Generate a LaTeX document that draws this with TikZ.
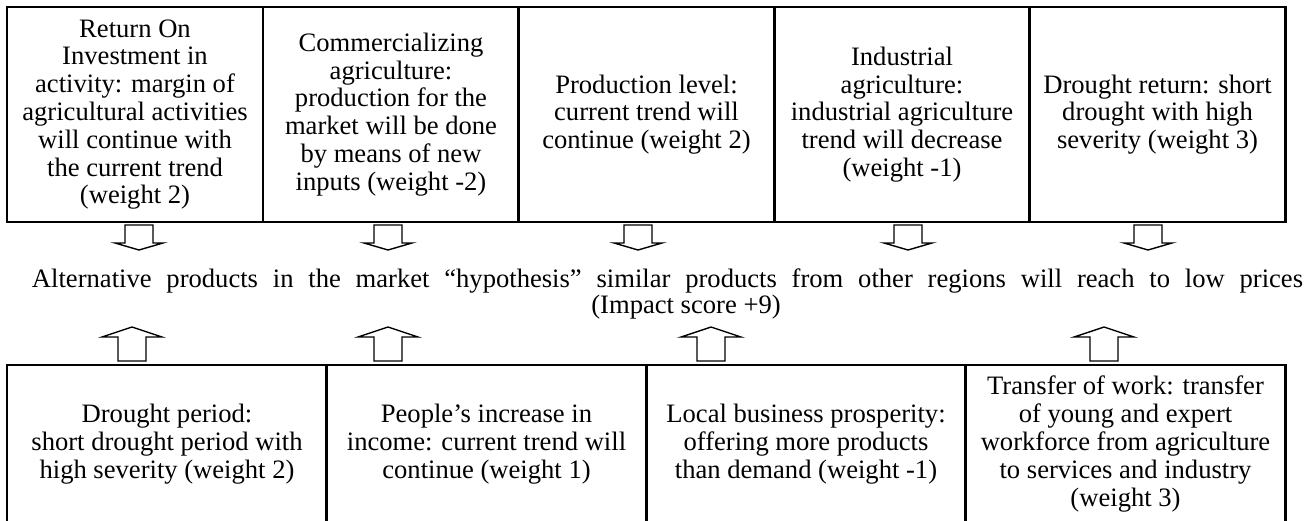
\documentclass[tikz,border=0pt]{standalone}
\usepackage{fontspec}
\setmainfont{Liberation Serif}
\usetikzlibrary{calc}

\tikzset{
  factor/.style={draw, line width=1.1pt, inner sep=0pt, outer sep=0pt, align=center,
    font=\fontsize{13.3}{13.9}\selectfont},
  topfactor/.style={factor, minimum width=128pt, minimum height=107.5pt},
  lowfactor/.style={factor, minimum width=160pt, minimum height=79pt},
  blockarrow/.style={draw, line width=0.7pt, line join=miter, fill=white},
  downarrow/.pic={\draw[blockarrow] (-14,0) -- (14,0) -- (14,18) -- (24,18) -- (0,25) -- (-24,18) -- (-14,18) -- cycle;},
  uparrow/.pic={\draw[blockarrow] (-14,0) -- (14,0) -- (14,-24) -- (30,-24) -- (0,-34) -- (-30,-24) -- (-14,-24) -- cycle;}
}

\begin{document}
\begin{tikzpicture}[x=0.5pt, y=-0.5pt]
\useasboundingbox (0,0) rectangle (1309,520);

\node[topfactor] (roi) at (135,114.5) {Return On\\Investment in\\activity: margin of\\agricultural activities\\will continue with\\the current trend\\(weight 2)};
\node[topfactor] (comm) at (391,114.5) {Commercializing\\agriculture:\\production for the\\market will be done\\by means of new\\inputs (weight -2)};
\node[topfactor] (prod) at (646.5,114.5) {Production level:\\current trend will\\continue (weight 2)};
\node[topfactor] (indus) at (902,114.5) {Industrial\\agriculture:\\industrial agriculture\\trend will decrease\\(weight -1)};
\node[topfactor] (dret) at (1157.5,114.5) {Drought return: short\\drought with high\\severity (weight 3)};

\node[font=\fontsize{13.3}{13}\selectfont, align=center, inner sep=0pt] (hyp) at (667.5,294)
  {\makebox[635.5pt][s]{Alternative products in the market “hypothesis” similar products from other regions will reach to low prices}\\
   \hspace*{18.5pt}(Impact score +9)};

\node[lowfactor] (dper) at (167,444) {Drought period:\\short drought period with\\high severity (weight 2)};
\node[lowfactor] (income) at (486.5,444) {People’s increase in\\income: current trend will\\continue (weight 1)};
\node[lowfactor] (local) at (806,444) {Local business prosperity:\\offering more products\\than demand (weight -1)};
\node[lowfactor] (work) at (1125.5,444) {Transfer of work: transfer\\of young and expert\\workforce from agriculture\\to services and industry\\(weight 3)};

\pic at ($(roi.south)+(4,3)$) {downarrow};
\pic at ($(comm.south)+(-3,3)$) {downarrow};
\pic at ($(prod.south)+(-8.5,3)$) {downarrow};
\pic at ($(indus.south)+(6,3)$) {downarrow};
\pic at ($(dret.south)+(-9.5,3)$) {downarrow};

\pic at ($(dper.north)+(-35,-4)$) {uparrow};
\pic at ($(income.north)+(-98.5,-4)$) {uparrow};
\pic at ($(local.north)+(-95,-4)$) {uparrow};
\pic at ($(work.north)+(-21.5,-4)$) {uparrow};
\end{tikzpicture}
\end{document}
